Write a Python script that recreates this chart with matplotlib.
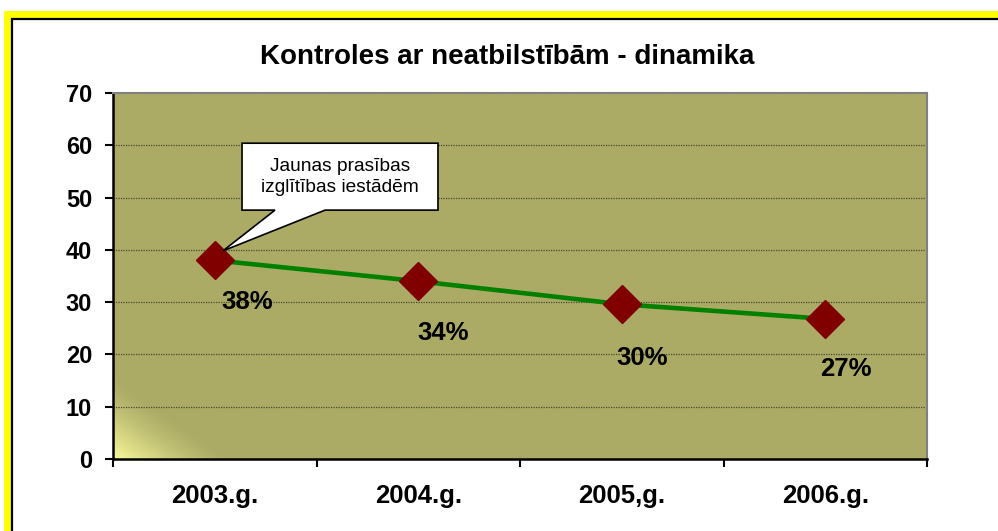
import numpy as np
import matplotlib.pyplot as plt
from matplotlib.patches import Rectangle, Polygon

years = ['2003.g.', '2004.g.', '2005,g.', '2006.g.']
values = [38, 34, 29.6, 26.8]
labels = ['38%', '34%', '30%', '27%']
yticks = [0, 10, 20, 30, 40, 50, 60, 70]

plt.rcParams['font.family'] = ['Liberation Sans', 'DejaVu Sans']

W, H = 998, 531
fig = plt.figure(figsize=(W / 100, H / 100), dpi=100)

# yellow frame + black inner line (cut off right/bottom)
fig.patches.append(Rectangle((4 / W, 0), 1, 1 - 11 / H, transform=fig.transFigure,
                             facecolor='#ffff00', edgecolor='none', zorder=0))
fig.patches.append(Rectangle((12 / W, -0.1), 1.2, 1.1 - 19 / H, transform=fig.transFigure,
                             facecolor='white', edgecolor='black', linewidth=1.6, zorder=0))

ax = fig.add_axes([113 / W, 1 - 459 / H, 814 / W, 366 / H])
ax.set_zorder(3)
x = np.arange(len(years))

# olive background with light corner at bottom left
olive = np.array([0xab, 0xab, 0x66]) / 255
light = np.array([0xf8, 0xf8, 0x9a]) / 255
px = np.linspace(0, 814, 400)
py = np.linspace(0, 366, 200)
PX, PY = np.meshgrid(px, py)
t = np.clip(1 - (PX + 1.45 * PY) / 115, 0, 1) ** 1.3
img = olive[None, None, :] + t[..., None] * (light - olive)[None, None, :]
ax.imshow(img, extent=[0, 1, 0, 1], origin='lower', transform=ax.transAxes,
          aspect='auto', zorder=0)

ax.set_xlim(-0.5, len(years) - 0.5)
ax.set_ylim(0, 70)
ax.set_yticks(yticks)
ax.set_yticklabels([str(v) for v in yticks], fontsize=17, fontweight='bold')
for v in yticks[1:-1]:
    ax.axhline(v, color='#4a4a30', linestyle=(0, (1, 1)), linewidth=0.9, zorder=1)

ax.set_xticks(np.arange(len(years) + 1) - 0.5)
ax.set_xticklabels([])
ax.set_xticks(x, minor=True)
ax.set_xticklabels(years, minor=True, fontsize=18.5, fontweight='bold')
ax.tick_params(axis='x', which='minor', length=0, pad=18)
ax.tick_params(axis='x', which='major', direction='out', length=6, width=1.5)
ax.tick_params(axis='y', direction='out', length=6, width=1.5, pad=9)

ax.spines['left'].set_linewidth(1.8)
ax.spines['bottom'].set_linewidth(1.8)
ax.spines['top'].set_color('#808080')
ax.spines['right'].set_color('#808080')
ax.spines['top'].set_linewidth(1.5)
ax.spines['right'].set_linewidth(1.5)

ax.plot(x, values, color='#008000', linewidth=3.3, zorder=3,
        marker='D', markersize=19, markerfacecolor='#800000', markeredgecolor='#800000')

offsets = [(23, -30), (18, -37), (15, -39), (14.5, -36)]
for xi, v, lab, off in zip(x, values, labels, offsets):
    ax.annotate(lab, (xi, v), xytext=off, textcoords='offset points',
                ha='center', va='center', fontsize=18.5, fontweight='bold', zorder=4)

# callout box
callout = [(0.134, 60.4), (1.097, 60.4), (1.097, 47.6), (0.542, 47.6),
           (0.04, 39.8), (0.296, 47.6), (0.134, 47.6)]
ax.add_patch(Polygon(callout, closed=True, facecolor='white', edgecolor='black',
                     linewidth=1.2, zorder=5))
ax.text(0.615, 54.0, 'Jaunas prasības\nizglītības iestādēm', ha='center', va='center',
        fontsize=13.8, linespacing=1.3, zorder=6)

fig.text(507 / W, 1 - 57 / H, 'Kontroles ar neatbilstībām - dinamika',
         ha='center', va='center', fontsize=20, fontweight='bold')

fig.savefig('out.png', dpi=100)
